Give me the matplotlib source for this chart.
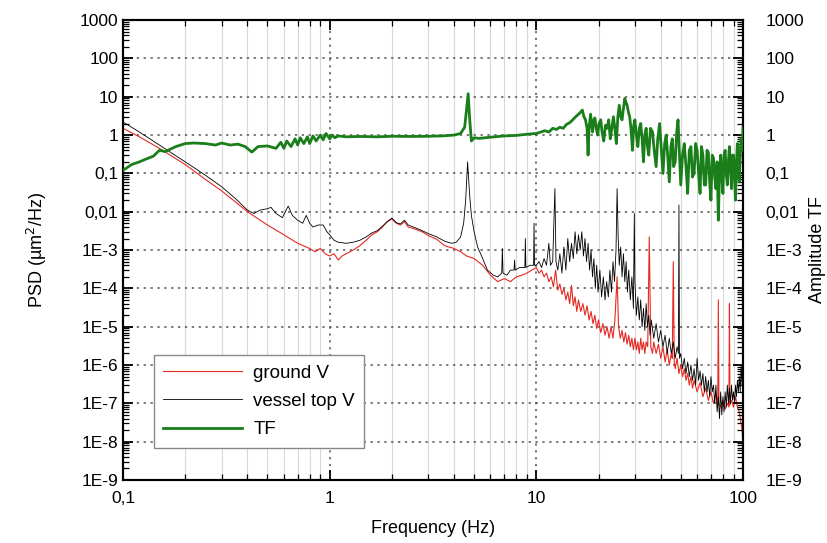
import matplotlib
matplotlib.use("Agg")
import matplotlib.pyplot as plt
import numpy as np
from matplotlib.ticker import FixedLocator, LogLocator, NullFormatter, FixedFormatter

plt.rcParams['font.family'] = ['Liberation Sans', 'DejaVu Sans']

# transfer function (right axis)
f_tf = [0.1, 0.11, 0.12, 0.13, 0.14, 0.15, 0.16, 0.18, 0.2, 0.22, 0.25, 0.28, 0.3, 0.33,
        0.36, 0.39, 0.42, 0.45, 0.5, 0.55, 0.58, 0.6, 0.62, 0.65, 0.68, 0.7, 0.72, 0.75,
        0.78, 0.8, 0.83, 0.86, 0.9, 0.93, 0.96, 1.0, 1.03, 1.06, 1.1, 1.2, 1.4, 1.7, 2.0,
        2.5, 3.0, 3.5, 4.0, 4.3, 4.5, 4.6, 4.68, 4.75, 4.85, 5.0, 5.3, 6, 7, 8, 9, 10, 10.5,
        11, 11.5, 12, 12.5, 13, 13.5, 14, 14.5,
        15, 15.5, 16, 16.4, 16.7, 17, 17.3, 17.6, 17.8, 18, 18.3, 18.5, 18.7, 19, 19.2, 19.5,
        19.8, 20.1, 20.5, 20.8, 21.2, 21.6, 22, 22.4, 22.8, 23.2, 23.6, 24, 24.4, 24.8, 25.2,
        25.6, 26, 26.4, 26.8, 27.2, 27.5, 27.9, 28.3, 28.7, 29.2, 29.6, 30, 30.5, 31, 31.5,
        32, 32.5, 33, 33.5, 34, 34.5, 35, 35.7, 36.5, 37.2, 38, 38.7, 39.5, 40.2, 41, 41.8,
        42.5, 43.2, 44, 44.8, 45.5, 46.2, 47, 47.8, 48.5, 49.2, 50, 51, 52, 53, 54, 55, 56,
        57, 58, 59, 60, 61, 62, 63, 64, 65, 66, 67, 68, 69, 70, 71, 72, 73, 74, 75, 76, 77,
        78, 79, 80, 81, 82, 83, 84, 85, 86, 87, 88, 89, 90, 91, 92, 93, 94, 95, 96, 97, 98,
        99, 100]
tf = [0.12, 0.17, 0.2, 0.24, 0.28, 0.4, 0.37, 0.5, 0.6, 0.62, 0.6, 0.55, 0.62, 0.55,
      0.58, 0.5, 0.36, 0.5, 0.52, 0.45, 0.65, 0.45, 0.7, 0.5, 0.8, 0.55, 0.85, 0.6,
      0.9, 0.6, 0.95, 0.7, 1.0, 0.75, 1.1, 0.8, 1.0, 0.85, 0.95, 0.9, 0.92, 0.9, 0.93,
      0.92, 0.93, 0.95, 1.0, 1.1, 1.6, 5, 12, 3, 0.7, 0.85, 0.82, 0.88, 0.95, 0.98, 1.05, 1.1, 1.2,
      1.3, 1.2, 1.5, 1.4, 1.6, 1.5, 1.9, 2.1,
      2.5, 3, 3.5, 4, 4.5, 3, 2.5, 1.5, 0.3, 1.5, 3.5, 2, 1.2, 2.5, 2.8, 1.5,
      1.0, 2, 2.5, 1.2, 0.7, 1.8, 1.5, 2.5, 0.8, 1.5, 3, 1.5, 0.6, 3, 6,
      3, 2.5, 5, 9, 7, 6, 4, 3, 1.5, 0.4, 1.8, 2.5, 1, 0.5, 1.5,
      2, 0.8, 0.2, 1, 1.5, 0.5, 0.3, 1.5, 1.2, 0.4, 0.15, 0.8, 2, 0.5, 0.1, 0.6,
      1, 0.3, 0.06, 0.5, 0.8, 0.15, 0.2, 1.2, 2.5, 0.4, 0.05, 0.3, 0.6, 0.15, 0.03, 0.4, 0.5,
      0.08, 0.1, 0.6, 0.4, 0.1, 0.03, 0.5, 0.3, 0.05, 0.05, 0.4, 0.35, 0.06, 0.02, 0.3, 0.25, 0.08, 0.04, 0.2, 0.006, 0.1,
      0.3, 0.08, 0.03, 0.3, 0.4, 0.1, 0.05, 0.2, 0.5, 0.15, 0.04, 0.3, 0.3, 0.08, 0.02, 0.2, 0.6, 0.1, 0.06, 0.3, 0.8,
      0.4, 1.5]

# ground vertical PSD
f_gnd = [0.1, 0.12, 0.15, 0.2, 0.25, 0.3, 0.35, 0.4, 0.5, 0.6, 0.7, 0.8, 0.85, 0.9, 0.95,
         1.0, 1.05, 1.1, 1.15, 1.2, 1.3, 1.4, 1.5, 1.6, 1.7, 1.8, 1.9, 2.0, 2.1, 2.2, 2.3,
         2.4, 2.6, 2.8, 3.0, 3.3, 3.6, 4.0, 4.3, 4.6, 5.0, 5.5, 6.0, 6.5, 7.0, 7.5, 8.0,
         8.5, 9.0, 9.5,
         10, 10.3, 10.6, 10.9, 11.2, 11.5, 11.8, 12.1, 12.4, 12.7, 13, 13.3, 13.6, 13.9,
         14.2, 14.5, 14.8, 15.1, 15.4, 15.7, 16, 16.4, 16.8, 17.2, 17.6, 18, 18.4, 18.8,
         19.2, 19.6, 20, 20.5, 21, 21.5, 22, 22.5, 23, 23.5, 24, 24.6, 25, 25.5, 26, 26.5,
         27, 27.5, 28, 28.5, 29, 29.5, 30, 30.5, 31, 31.5, 32, 32.5, 33, 33.5, 34, 34.6,
         35.2, 35.8, 36.5, 37, 38, 39, 40, 41, 42, 43, 44, 45, 45.5, 46, 46.5, 47, 48, 49,
         50, 51, 52, 53, 54, 55, 56, 57, 58, 60, 62, 64, 66, 68, 70, 72, 74, 75.5, 76,
         76.5, 78, 80, 82, 84, 85.5, 86, 86.5, 88, 90, 92, 94, 96, 98, 99, 100]
gnd = [1.5, 0.9, 0.45, 0.17, 0.07, 0.035, 0.018, 0.01, 0.0045, 0.0025, 0.0015, 0.0011, 0.0009, 0.0011, 0.0008,
       0.0007, 0.0008, 0.00055, 0.0007, 0.0008, 0.001, 0.0013, 0.0018, 0.0025, 0.003, 0.004, 0.0055, 0.0065, 0.005, 0.0045, 0.0055,
       0.004, 0.0035, 0.003, 0.0024, 0.0019, 0.0013, 0.0011, 0.0009, 0.0007, 0.0006, 0.0004, 0.00022, 0.00015, 0.00018, 0.00015, 0.0002,
       0.00022, 0.00025, 0.0003,
       3.5e-4, 2.5e-4, 3e-4, 2e-4, 2.5e-4, 1.5e-4, 2e-4, 1.1e-4, 3e-4, 9e-5, 1.3e-4, 7e-5, 1e-4, 5e-5,
       8e-5, 4e-5, 1.2e-4, 3.5e-5, 6e-5, 2.5e-5, 5e-5, 2.5e-5, 4e-5, 2e-5, 3.5e-5, 1.5e-5, 2.5e-5, 1.2e-5,
       2e-5, 9e-6, 1.5e-5, 7e-6, 1.2e-5, 6e-6, 1e-5, 5e-6, 1e-5, 5e-6, 1.5e-5, 2e-4, 1e-5, 5e-6, 8e-6, 4e-6,
       7e-6, 3.5e-6, 6e-6, 3e-6, 5e-6, 2.5e-6, 5e-6, 2.5e-6, 4e-6, 2e-6, 5e-6, 2.5e-6, 4e-6, 2e-6, 4e-6, 3e-6,
       2.2e-3, 3e-6, 2e-6, 4e-6, 2e-6, 3.5e-6, 1.5e-6, 3e-6, 1.2e-6, 2.5e-6, 1e-6, 2e-6, 1.5e-6, 5e-4, 1.2e-6, 8e-7, 1.5e-6, 6e-7,
       1e-6, 5e-7, 8e-7, 4e-7, 6e-7, 3e-7, 5e-7, 2.5e-7, 4e-7, 2e-7, 3.5e-7, 1.5e-7, 2.5e-7, 1.2e-7, 2e-7, 1e-7, 1.8e-7, 1e-7, 5e-5,
       1e-7, 8e-8, 1.2e-7, 7e-8, 1e-7, 8e-8, 4e-5, 9e-8, 1.2e-7, 8e-8, 1.5e-7, 8e-8, 6e-8, 3e-8, 2e-8, 8e-9]

# vessel top vertical PSD
f_ves = [0.1, 0.12, 0.15, 0.2, 0.25, 0.3, 0.35, 0.4, 0.43, 0.46, 0.5, 0.52, 0.55, 0.59,
         0.63, 0.66, 0.7, 0.74, 0.77, 0.8, 0.83, 0.88, 0.93, 0.97, 1.0, 1.05, 1.1, 1.2, 1.3,
         1.4, 1.5, 1.6, 1.7, 1.8, 1.9, 2.0, 2.1, 2.2, 2.3, 2.4, 2.6, 2.8, 3.0, 3.3, 3.6, 3.9,
         4.1, 4.3, 4.45, 4.55, 4.65, 4.75, 4.85, 5.0, 5.2, 5.5, 5.8, 6.2, 6.5, 6.8, 6.85, 6.9,
         7.2, 7.5, 7.8, 7.85, 7.9, 8.3, 8.8, 8.85, 8.9, 9.3, 9.7, 9.75, 9.8,
         10, 10.3, 10.6, 10.9, 11.2, 11.5, 11.7, 12, 12.3, 12.45, 12.7, 13, 13.3, 13.6, 13.9,
         14.2, 14.5, 14.8, 15.1, 15.4, 15.7, 16, 16.3, 16.6, 16.9, 17.2, 17.5, 17.8, 18.1,
         18.4, 18.7, 19, 19.3, 19.6, 19.9, 20.3, 20.7, 21.1, 21.5, 21.9, 22.3, 22.7, 23.1,
         23.5, 23.9, 24.3, 24.6, 24.9, 25.2, 25.6, 26, 26.4, 26.8, 27.2, 27.6, 28, 28.5, 29,
         29.5, 29.8, 30, 30.5, 31, 31.5, 32, 32.5, 33, 33.5, 34, 34.5, 35, 35.5, 36, 37, 38,
         39, 40, 41, 42, 43, 44, 45, 46, 47, 48, 48.7, 49, 49.3, 50, 51, 52, 53, 54, 55, 56,
         57, 58, 59, 60, 61, 62, 63, 64, 65, 66, 67, 68, 69, 70, 71, 72, 73, 74, 75, 76, 77,
         78, 79, 80, 81, 82, 83, 84, 85, 86, 87, 88, 89, 90, 91, 92, 93, 94, 95, 96, 97, 98,
         99, 100]
ves = [2.2, 1.2, 0.55, 0.2, 0.09, 0.045, 0.022, 0.011, 0.009, 0.011, 0.012, 0.013, 0.009, 0.007,
       0.014, 0.008, 0.006, 0.005, 0.008, 0.005, 0.004, 0.0045, 0.0045, 0.003, 0.0025, 0.0018, 0.0016, 0.0015, 0.0016,
       0.0018, 0.0022, 0.0028, 0.0032, 0.0042, 0.0055, 0.0068, 0.0052, 0.0048, 0.006, 0.0045, 0.0038, 0.0032, 0.0027, 0.0022, 0.0017, 0.0015,
       0.0016, 0.0022, 0.005, 0.02, 0.2, 0.03, 0.008, 0.003, 0.0012, 0.0006, 0.0003, 0.00022, 0.0002, 0.00025, 0.0011, 0.00025,
       0.00022, 0.0003, 0.0003, 0.00055, 0.0003, 0.00035, 0.00035, 0.002, 0.00035, 0.0004, 0.0004, 0.005, 0.0004,
       4e-4, 5e-4, 3.5e-4, 6e-4, 4e-4, 1.5e-3, 4e-4, 5e-4, 0.04, 5e-4, 3e-4, 8e-4, 2.5e-4, 1.2e-3, 3e-4,
       2e-3, 5e-4, 1.5e-3, 6e-4, 3e-3, 8e-4, 2.5e-3, 1e-3, 3e-3, 7e-4, 2e-3, 5e-4, 1.5e-3, 3e-4,
       1e-3, 2e-4, 6e-4, 1e-4, 4e-4, 8e-5, 3e-4, 6e-5, 2e-4, 5e-5, 1.5e-4, 6e-5, 3e-4, 8e-5,
       5e-4, 1.5e-4, 1e-3, 0.04, 2e-3, 4e-4, 1.2e-3, 2e-4, 8e-4, 1.5e-4, 5e-4, 8e-5, 3e-4, 5e-5, 2e-4,
       3e-5, 9e-3, 1.5e-4, 2e-5, 6e-5, 1.5e-5, 5e-5, 1e-5, 3e-5, 8e-6, 4e-5, 1e-5, 2e-5, 6e-6, 1.5e-5, 5e-6, 1.2e-5,
       4e-6, 8e-6, 3e-6, 6e-6, 2e-6, 5e-6, 2e-6, 4e-6, 1.5e-6, 3e-6, 2e-6, 0.015, 1.5e-6, 2e-6, 8e-7, 1.5e-6, 6e-7, 1.2e-6, 5e-7, 1e-6,
       4e-7, 8e-7, 3e-7, 1.5e-6, 4e-7, 7e-7, 3e-7, 6e-7, 2e-7, 5e-7, 2e-7, 4e-7, 1.5e-7, 5e-7, 2e-7, 3e-7, 1e-7, 3e-7, 6e-8, 1.5e-7, 4e-8,
       2e-7, 5e-8, 1.5e-7, 6e-8, 2e-7, 8e-8, 3e-7, 1e-7, 2.5e-7, 1e-7, 3e-7, 1.2e-7, 2e-7, 1e-7, 3e-7, 1.5e-7, 4e-7, 2e-7, 5e-7, 2e-7, 1e-6,
       3e-7, 5e-7]

ytick_vals = [1e-9, 1e-8, 1e-7, 1e-6, 1e-5, 1e-4, 1e-3, 1e-2, 1e-1, 1, 10, 100, 1000]
ytick_labels = ['1E-9', '1E-8', '1E-7', '1E-6', '1E-5', '1E-4', '1E-3', '0,01', '0,1',
                '1', '10', '100', '1000']
xtick_vals = [0.1, 1, 10, 100]
xtick_labels = ['0,1', '1', '10', '100']

fig = plt.figure(figsize=(8.28, 5.43), dpi=100)
ax = fig.add_axes([0.1486, 0.116, 0.7487, 0.847])
ax2 = ax.twinx()

l1, = ax.plot(f_gnd, gnd, color='#e52a22', lw=0.8, zorder=3, label='ground V')
l2, = ax.plot(f_ves, ves, color='black', lw=0.6, zorder=4, label='vessel top V')
l3, = ax2.plot(f_tf, tf, color='#1a7f1a', lw=2, zorder=3, label='TF')

for a in (ax, ax2):
    a.set_xscale('log')
    a.set_yscale('log')
    a.set_xlim(0.1, 100)
    a.set_ylim(1e-9, 1000)
    a.yaxis.set_major_locator(FixedLocator(ytick_vals))
    a.yaxis.set_major_formatter(FixedFormatter(ytick_labels))
    a.yaxis.set_minor_locator(LogLocator(base=10, subs=np.arange(2, 10), numticks=100))
    a.yaxis.set_minor_formatter(NullFormatter())
    a.tick_params(axis='both', which='major', direction='in', length=7, width=1.3,
                  labelsize=12.5, top=True)
    a.tick_params(axis='both', which='minor', direction='in', length=4, width=0.9, top=True)

ax2.tick_params(axis='y', which='major', pad=16)
ax.xaxis.set_major_locator(FixedLocator(xtick_vals))
ax.xaxis.set_major_formatter(FixedFormatter(xtick_labels))
ax.xaxis.set_minor_locator(LogLocator(base=10, subs=np.arange(2, 10), numticks=100))
ax.xaxis.set_minor_formatter(NullFormatter())
ax.tick_params(axis='x', which='major', pad=8)

ax.grid(True, which='major', axis='y', linestyle=(0, (1.5, 3)), color='#555555', lw=1.1)
ax.grid(True, which='major', axis='x', linestyle=(0, (1.5, 3)), color='#555555', lw=1.1)
ax.grid(True, which='minor', axis='x', linestyle='-', color='#d8d8d8', lw=0.8)
ax.set_axisbelow(True)

for a in (ax, ax2):
    for s in a.spines.values():
        s.set_linewidth(1.5)
        s.set_color('black')

ax.set_xlabel('Frequency (Hz)', fontsize=13, labelpad=10)
ax.set_ylabel('PSD (µm$^2$/Hz)', fontsize=13, labelpad=22)
ax2.set_ylabel('Amplitude TF', fontsize=13, labelpad=4)

leg = ax2.legend(handles=[l1, l2, l3], loc='lower left', bbox_to_anchor=(0.035, 0.05),
                 fontsize=13.5, frameon=True, fancybox=False, edgecolor='#888888',
                 framealpha=1, handlelength=4.2, borderpad=0.5, labelspacing=0.6,
                 handletextpad=0.6)
leg.get_frame().set_linewidth(1.0)

fig.savefig('out.png', dpi=100)
